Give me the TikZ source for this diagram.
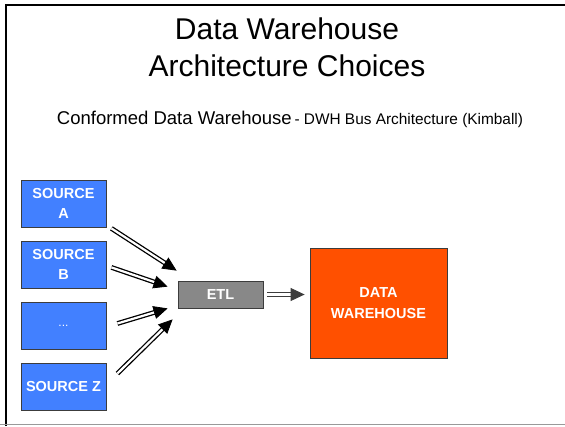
\documentclass[tikz,border=0pt]{standalone}
\usepackage{fontspec}
\setmainfont{Liberation Sans}
\usetikzlibrary{arrows.meta,calc}
\definecolor{srcblue}{RGB}{66,128,255}
\definecolor{dworange}{RGB}{255,80,0}
\definecolor{etlgray}{RGB}{136,136,136}
\definecolor{edgegray}{RGB}{60,60,60}
\tikzset{
  srcbox/.style={draw=edgegray, line width=0.8pt, fill=srcblue, minimum width=85pt, minimum height=47pt,
    inner sep=0pt, text=white, align=center, font=\bfseries\fontsize{14.5}{19.5}\selectfont},
  etlbox/.style={draw=edgegray, line width=0.8pt, fill=etlgray, minimum width=85pt, minimum height=27pt,
    inner sep=0pt, text=white, font=\bfseries\fontsize{14.5}{19}\selectfont},
  dwbox/.style={draw=edgegray, line width=0.8pt, fill=dworange, minimum width=137pt, minimum height=110pt,
    inner sep=0pt, text=white, align=center, font=\bfseries\fontsize{14.5}{20.5}\selectfont},
  shaft/.style={draw=#1, line width=1.3pt, double=white, double distance=2.2pt, shorten >=9pt},
  shaft/.default=black,
  headtip/.style={draw=#1, fill=#1, line width=0.8pt, -{Triangle[length=14pt,width=13pt]}},
  headtip/.default=black
}
\newcommand\dblarr[3]{%
  \draw[shaft=#1] (#2) -- (#3);
  \draw[headtip=#1] ($(#3)!12pt!(#2)$) -- (#3);
}
\begin{document}
\begin{tikzpicture}[x=1pt,y=-1pt]
\useasboundingbox (0,0) rectangle (565,426);
% frame
\draw[line width=1.6pt, black] (6,426) -- (6,5) -- (566,5);
\draw[line width=1.6pt, gray!80] (0,424.5) -- (566,424.5);
% titles
\node[font=\fontsize{30}{36.7}\selectfont, anchor=base, inner sep=0pt] (title1) at (287,39.3) {Data Warehouse};
\node[font=\fontsize{30}{36.7}\selectfont, anchor=base, inner sep=0pt] (title2) at (287,76) {Architecture Choices};
\node[anchor=base, inner sep=0pt] (sub) at (290,124)
  {{\fontsize{18.5}{22}\selectfont Conformed Data Warehouse} {\fontsize{15.4}{18}\selectfont - DWH Bus Architecture (Kimball)}};
% boxes
\node[srcbox] (a) at (63.5,203.5) {SOURCE\\A};
\node[srcbox] (b) at (63.5,264.5) {SOURCE\\B};
\node[srcbox, font=\fontsize{12}{14}\selectfont] (dots) at (63.5,325.5) {...};
\node[srcbox] (z) at (63.5,386.5) {SOURCE Z};
\node[etlbox] (etl) at (220.5,294.5) {ETL};
\node[dwbox] (dw) at (378.5,303) {DATA\\WAREHOUSE};
% arrow end points
\coordinate (a1) at ($(a.south east)+(5,1)$);
\coordinate (a2) at ($(etl.north west)+(-1,-10)$);
\coordinate (b1) at ($(b.south east)+(5,-21)$);
\coordinate (b2) at ($(etl.north west)+(-10,6)$);
\coordinate (d1) at ($(dots.east)+(11,-2)$);
\coordinate (d2) at ($(etl.south west)+(-10,0)$);
\coordinate (z1) at ($(z.east)+(11,-13)$);
\coordinate (z2) at ($(etl.south west)+(-5,11)$);
\coordinate (e1) at ($(etl.east)+(4,0)$);
\coordinate (e2) at ($(dw.west)+(-5,-8.5)$);
% arrows
\dblarr{black}{a1}{a2}
\dblarr{black}{b1}{b2}
\dblarr{black}{d1}{d2}
\dblarr{black}{z1}{z2}
\dblarr{edgegray}{e1}{e2}
\end{tikzpicture}
\end{document}
